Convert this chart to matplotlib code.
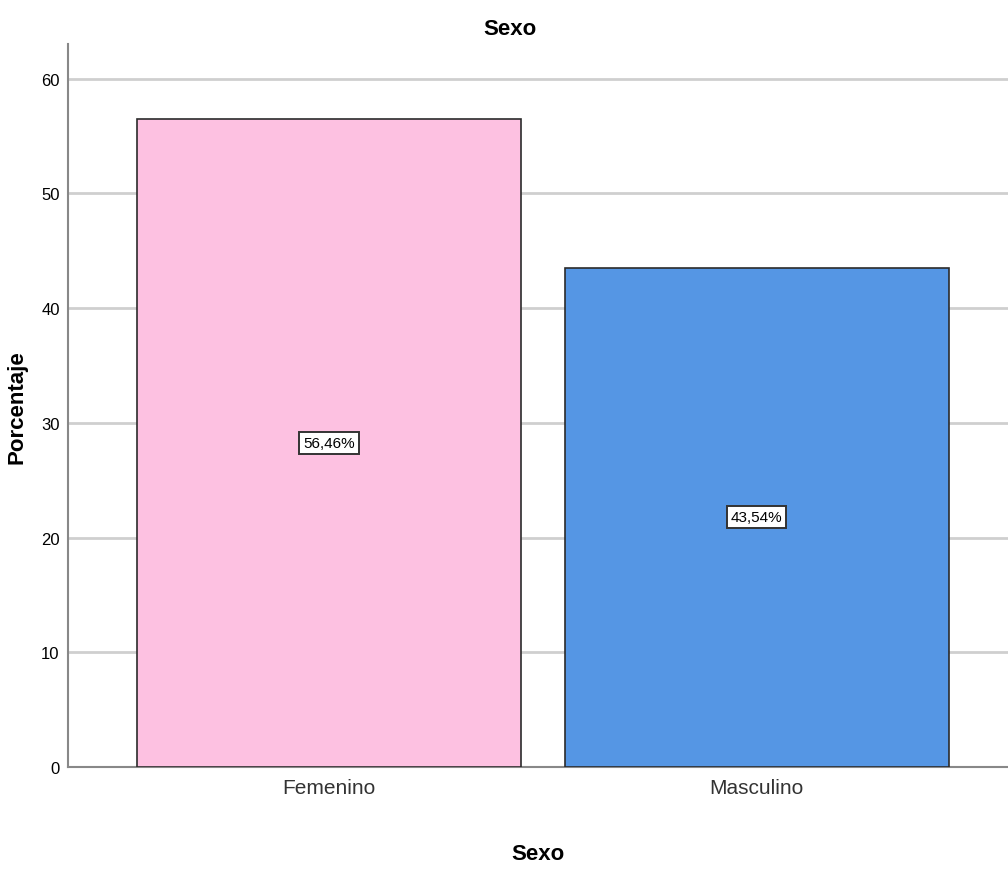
import matplotlib
matplotlib.use('Agg')
import matplotlib.pyplot as plt
from matplotlib import font_manager

categorias = ["Femenino", "Masculino"]
porcentajes = [56.46, 43.54]
etiquetas = ["56,46%", "43,54%"]
colores = ["#FDC1E1", "#5596E4"]
yticks = [0, 10, 20, 30, 40, 50, 60]

# narrow font if available
names = {f.name for f in font_manager.fontManager.ttflist}
narrow = "Liberation Sans Narrow" if "Liberation Sans Narrow" in names else "Liberation Sans"
plt.rcParams['font.family'] = [narrow, 'DejaVu Sans']

fig = plt.figure(figsize=(10.08, 8.7), dpi=100)
ax = fig.add_axes([0.0675, 0.1172, 0.9325, 0.8308])

x = list(range(len(categorias)))
ax.bar(x, porcentajes, width=0.897, color=colores, edgecolor="#2b2b2b",
       linewidth=1.2, zorder=3)

for xi, v, t in zip(x, porcentajes, etiquetas):
    ax.text(xi, v / 2, t, ha="center", va="center", fontsize=11, zorder=4,
            bbox=dict(boxstyle="square,pad=0.25", facecolor="white",
                      edgecolor="#333333", linewidth=1.4))

ax.set_xlim(-0.61, 1.587)
ax.set_ylim(0, 63)
ax.set_yticks(yticks)
ax.set_xticks(x)
ax.set_xticklabels(categorias, fontsize=15, color="#333333")
ax.tick_params(axis="y", labelsize=12, length=0, pad=6)
ax.tick_params(axis="x", length=0, pad=8)
ax.yaxis.grid(True, color="#cfcfcf", linewidth=2)
ax.set_axisbelow(True)

for s in ["top", "right"]:
    ax.spines[s].set_visible(False)
for s in ["left", "bottom"]:
    ax.spines[s].set_color("#888888")
    ax.spines[s].set_linewidth(1.5)

ax.set_ylabel("Porcentaje", fontsize=16, fontweight="bold")
ax.yaxis.set_label_coords(-0.043, 0.50)
ax.set_xlabel("Sexo", fontsize=16, fontweight="bold", labelpad=33)
fig.text(0.506, 0.966, "Sexo", ha="center", va="center", fontsize=16,
         fontweight="bold")

fig.savefig("out.png", dpi=100)
